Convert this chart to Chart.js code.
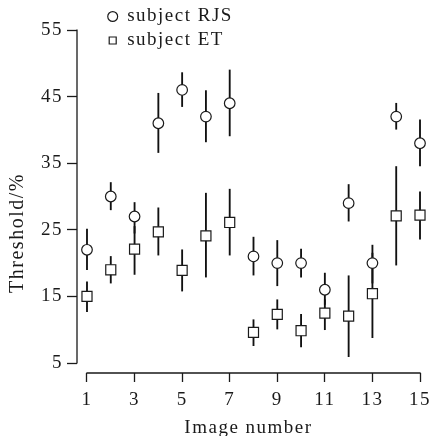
<!DOCTYPE html>
<html><head><meta charset="utf-8">
<script src="https://cdn.jsdelivr.net/npm/chart.js@4"></script>
<style>html,body{margin:0;padding:0;background:#fff}</style>
</head><body>
<canvas id="c" width="429" height="436"></canvas>
<script>
const imageNumbers = [1,2,3,4,5,6,7,8,9,10,11,12,13,14,15];
const seriesNames = ['subject RJS', 'subject ET'];
const rjsValues = [22, 30, 27, 41, 46, 42, 44, 21, 20, 20, 16, 29, 20, 42, 38];
const rjsLow    = [19, 28, 24.5, 36.6, 43.5, 38.2, 39.1, 18.2, 16.6, 17.9, 13.8, 26.3, 17, 40.1, 34.6];
const rjsHigh   = [25.1, 32.1, 29.1, 45.5, 48.6, 45.9, 49, 23.9, 23.4, 22.1, 18.5, 31.8, 22.7, 44, 41.5];
const etValues  = [15, 19, 22.1, 24.7, 18.9, 24.1, 26.1, 9.6, 12.3, 9.85, 12.5, 12.05, 15.4, 27.1, 27.2];
const etLow     = [12.7, 17, 18.3, 21.2, 15.8, 17.9, 21.2, 7.6, 10.1, 7.4, 10, 5.95, 8.8, 19.7, 23.6];
const etHigh    = [17.2, 21, 25.5, 28.3, 22, 30.5, 31.1, 11.5, 14.5, 12.3, 14.5, 18.1, 21.5, 34.5, 30.7];
const xTickValues = [1, 3, 5, 7, 9, 11, 13, 15];
const yTickValues = [5, 15, 25, 35, 45, 55];
const xTitle = 'Image number';
const yTitle = 'Threshold/%';

const INK = '#1a1a1a';
const FONT = 'Liberation Serif';

const pts = (vals) => imageNumbers.map((n, i) => ({x: n, y: vals[i]}));
const bars = (lo, hi) => imageNumbers.map((n, i) => ({x: n, y: [lo[i], hi[i]]}));

const spacing = (chart) => { if ('letterSpacing' in chart.ctx) chart.ctx.letterSpacing = '1.5px'; };

const axisPlugin = {
  id: 'axisLines',
  beforeUpdate(chart) { spacing(chart); },
  beforeDraw(chart) { spacing(chart); },
  afterLayout(chart) {
    const lg = chart.legend;
    if (lg) {
      const w = lg.width;
      lg.left = 102.7; lg.right = lg.left + w;
      lg.top = 2; lg.bottom = lg.top + 200;
    }
  },
  beforeDatasetsDraw(chart) {
    const {ctx, scales: {x, y}, chartArea} = chart;
    ctx.save();
    ctx.strokeStyle = INK; ctx.lineWidth = 1.3;
    ctx.beginPath();
    const x0 = chartArea.left;
    ctx.moveTo(x0, y.getPixelForValue(yTickValues[yTickValues.length - 1]) - 0.6);
    ctx.lineTo(x0, y.getPixelForValue(yTickValues[0]) + 0.6);
    const yb = chartArea.bottom;
    ctx.moveTo(x.getPixelForValue(xTickValues[0]) - 0.6, yb);
    ctx.lineTo(x.getPixelForValue(xTickValues[xTickValues.length - 1]) + 0.6, yb);
    ctx.stroke();
    ctx.restore();
  }
};

new Chart(document.getElementById('c'), {
  type: 'scatter',
  data: {
    datasets: [
      { type: 'scatter', label: seriesNames[0], data: pts(rjsValues), pointStyle: 'circle', pointRadius: 5.3,
        backgroundColor: '#fff', borderColor: INK, borderWidth: 1.2, order: 1, clip: false },
      { type: 'scatter', label: seriesNames[1], data: pts(etValues), pointStyle: 'rect', pointRadius: 7.1,
        backgroundColor: '#fff', borderColor: INK, borderWidth: 1.2, order: 1, clip: false },
      { type: 'bar', label: 'rjs err', data: bars(rjsLow, rjsHigh), backgroundColor: '#111', borderWidth: 0,
        barThickness: 1.2, grouped: false, order: 2, clip: false },
      { type: 'bar', label: 'et err', data: bars(etLow, etHigh), backgroundColor: '#111', borderWidth: 0,
        barThickness: 1.2, grouped: false, order: 2, clip: false }
    ]
  },
  options: {
    responsive: false,
    animation: false,
    events: [],
    layout: { padding: { top: 30, right: 0, left: 0, bottom: 0 } },
    scales: {
      x: {
        type: 'linear', min: 0.58, max: 15, offset: false,
        afterBuildTicks: (s) => { s.ticks = xTickValues.map(v => ({value: v})); },
        afterFit: (s) => { s.paddingRight = 9; },
        border: { display: false },
        grid: { display: true, offset: false, drawOnChartArea: false, drawTicks: true, tickLength: 9, tickColor: INK, tickWidth: 1.3 },
        ticks: { color: INK, font: { family: FONT, size: 19 }, padding: 7, maxRotation: 0, autoSkip: false },
        title: { display: true, text: xTitle, color: INK, font: { family: FONT, size: 19, lineHeight: 0.8 }, padding: { top: 2, bottom: 0 } }
      },
      y: {
        type: 'linear', min: 3.5, max: 55,
        afterBuildTicks: (s) => { s.ticks = yTickValues.map(v => ({value: v})); },
        border: { display: false },
        grid: { display: true, drawOnChartArea: false, drawTicks: true, tickLength: 10, tickColor: INK, tickWidth: 1.3 },
        ticks: { color: INK, font: { family: FONT, size: 19 }, padding: 4, autoSkip: false }
      }
    },
    plugins: {
      tooltip: { enabled: false },
      title: { display: true, position: 'left', text: yTitle, color: INK, font: { family: FONT, size: 20, weight: 'normal' }, padding: { top: 6, bottom: 7 } },
      legend: {
        display: true, position: 'chartArea', align: 'start',
        labels: {
          usePointStyle: true, boxWidth: 10, boxHeight: 7, padding: 5, color: INK,
          font: { family: FONT, size: 19 },
          filter: (item, data) => data.datasets[item.datasetIndex].type !== 'bar'
        }
      }
    }
  },
  plugins: [axisPlugin]
});
</script>
</body></html>
